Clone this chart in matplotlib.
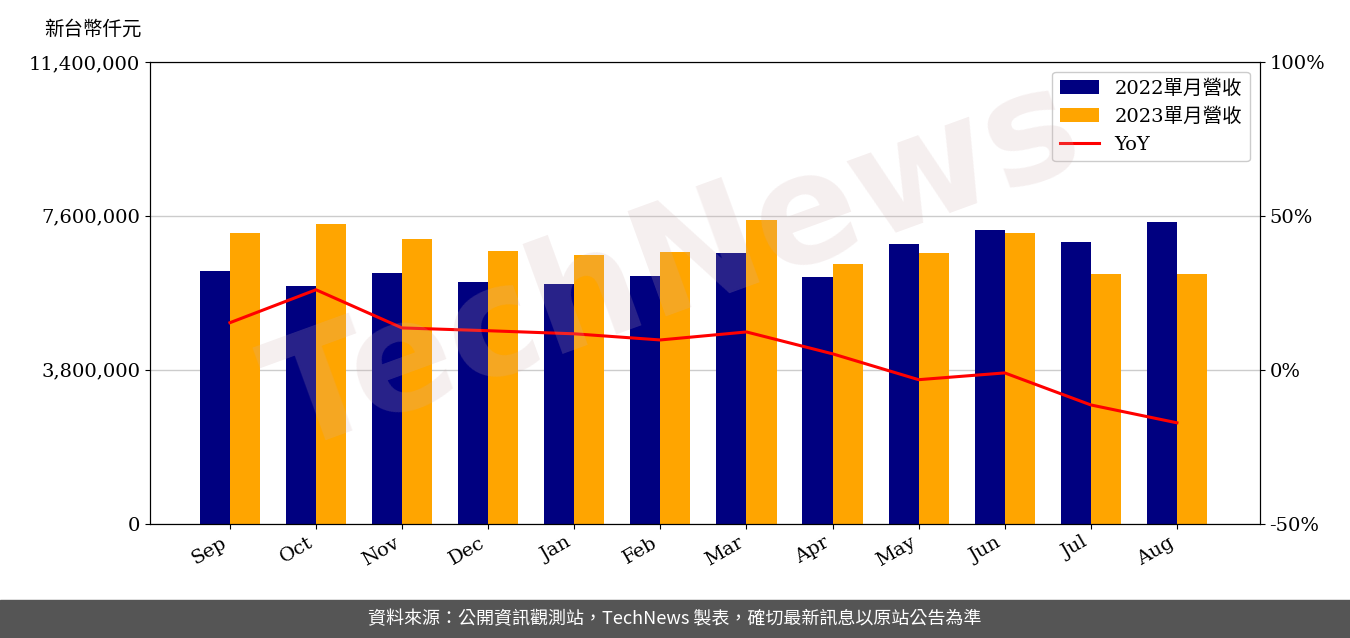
import matplotlib
matplotlib.use('Agg')
import matplotlib.pyplot as plt
import numpy as np

plt.rcParams['font.family'] = ['DejaVu Serif', 'Noto Sans CJK TC']

months = ['Sep','Oct','Nov','Dec','Jan','Feb','Mar','Apr','May','Jun','Jul','Aug']
rev2022 = [6243000,5873000,6193000,5971000,5922000,6119000,6687000,6095000,6909000,7254000,6958000,7452000]
rev2023 = [7180000,7400000,7030000,6736000,6638000,6710000,7500000,6416000,6687000,7180000,6169000,6169000]
yoy = [15.3,26.0,13.6,12.7,11.7,9.7,12.3,5.2,-3.2,-1.0,-11.4,-17.2]
yticks = [0,3800000,7600000,11400000]
rticks = [-50,0,50,100]

fig = plt.figure(figsize=(13.5,6.38), dpi=100)
ax = fig.add_axes([0.111,0.179,0.822,0.724])
x = np.arange(len(months))
w = 0.35
b1 = ax.bar(x-w/2, rev2022, w, color='#000080', label='2022單月營收')
b2 = ax.bar(x+w/2, rev2023, w, color='#FFA500', label='2023單月營收')
ax.set_ylim(0,11400000)
ax.set_yticks(yticks)
ax.set_yticklabels([f'{v:,}' for v in yticks], fontsize=14)
ax.grid(axis='y', color='#cccccc', lw=1)
ax.set_axisbelow(True)
ax.set_xticks(x)
ax.set_xticklabels(months, rotation=30, ha='right', fontsize=14)
ax.set_xlim(-0.93, 11.96)
ax2 = ax.twinx()
l, = ax2.plot(x, yoy, color='red', lw=2.2, label='YoY')
ax2.set_ylim(-50,100)
ax2.set_yticks(rticks)
ax2.set_yticklabels([f'{v}%' for v in rticks], fontsize=14)
ax2.legend([b1,b2,l],['2022單月營收','2023單月營收','YoY'], loc='upper right', fontsize=14, framealpha=1)
fig.text(0.033,0.945,'新台幣仟元', fontsize=14, family=['Noto Sans CJK TC'])
fig.text(0.5,0.58,'TechNews', fontsize=110, color='#d0b0b0', alpha=0.2, rotation=20,
         ha='center', va='center', family=['DejaVu Sans'], weight='bold', zorder=0)
fig.patches.append(plt.Rectangle((0,0),1,0.06,transform=fig.transFigure,color='#555555'))
fig.text(0.5,0.03,'資料來源：公開資訊觀測站，TechNews 製表，確切最新訊息以原站公告為準',
         color='white', fontsize=13, ha='center', va='center', family=['Noto Sans CJK TC'])
fig.savefig('out.png', dpi=100)
